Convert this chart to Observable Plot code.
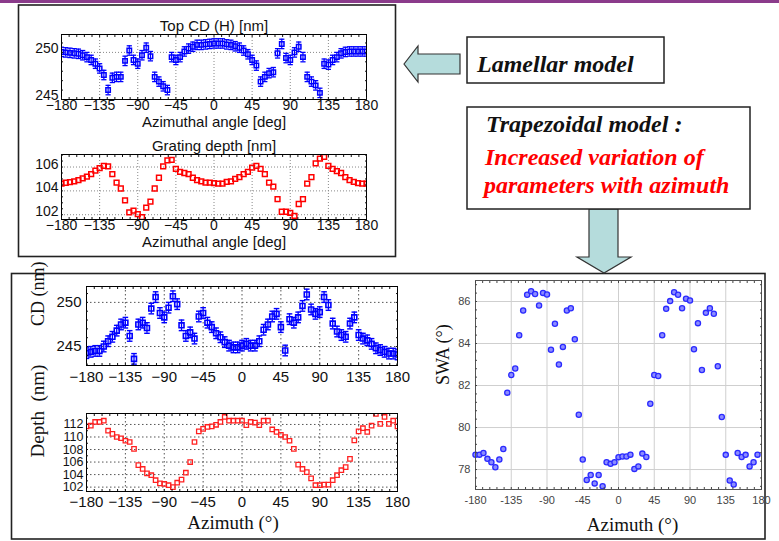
<!DOCTYPE html>
<html><head><meta charset="utf-8">
<script src="https://cdn.jsdelivr.net/npm/d3@7"></script>
<script src="https://cdn.jsdelivr.net/npm/@observablehq/plot@0.6"></script>
<style>
html,body{margin:0;padding:0;background:#fff;}
#root{position:relative;width:779px;height:541px;overflow:hidden;background:#fff;}
#root svg text{white-space:pre;}
</style></head><body><div id="root"></div>
<script>
// ---------- data ----------
const azimuth = d3.range(-180, 181, 5);          // 73 azimuths for the 4 left panels
const swaAzimuth = d3.range(-180, 176, 5);       // 72 azimuths for the SWA panel
const xTicks = [-180, -135, -90, -45, 0, 45, 90, 135, 180];
const minorX = d3.range(-180, 181, 9);

const lamellarCD = [250.05,250.0,249.95,249.9,249.85,249.7,249.5,249.2,248.8,248.3,
  247.6,246.0,247.3,247.4,247.4,249.1,250.2,249.2,248.8,249.7,
  250.5,249.6,247.4,246.9,246.4,246.0,249.5,249.2,249.5,250.1,
  250.4,250.6,250.8,250.8,250.85,250.9,250.95,250.95,250.95,250.85,
  250.8,250.65,250.5,250.2,249.8,249.2,248.6,246.9,247.4,247.8,
  247.9,249.9,250.9,249.4,249.2,250.0,250.6,249.5,247.4,246.9,
  246.5,245.7,248.8,248.7,249.2,249.5,249.9,250.05,250.1,250.1,
  250.1,250.1,250.1];
const lamellarCDErr = 0.5;
const lamellarCDTicks = [245, 250];

const lamellarDepth = [104.6,104.68,104.73,104.8,104.9,105.05,105.2,105.4,105.7,105.9,
  106.1,106.05,105.4,104.7,104.2,103.2,102.2,102.35,102.05,101.8,
  102.6,103.1,104.2,105.1,106.05,106.55,106.6,105.85,105.6,105.5,
  105.4,105.1,104.9,104.8,104.7,104.7,104.65,104.6,104.6,104.75,
  104.8,105.0,105.15,105.4,105.6,105.95,106.1,105.85,105.4,104.7,
  104.35,103.3,102.25,102.25,102.15,101.9,102.9,103.3,104.6,105.15,
  106.3,106.7,106.85,106.1,105.85,105.65,105.5,105.15,104.9,104.75,
  104.65,104.6,104.6];
const lamellarDepthTicks = [102, 104, 106];

const trapCD = [244.25,244.4,244.5,244.5,245.0,245.6,246.1,246.8,247.5,247.7,
  246.2,243.6,247.5,247.7,247.1,249.3,250.6,248.8,248.3,249.4,
  250.7,249.8,247.4,246.2,246.6,245.9,248.4,248.8,247.7,247.2,
  246.5,246.05,245.5,245.1,244.9,244.9,245.1,245.3,245.1,245.1,
  245.6,246.9,247.5,248.4,248.7,247.2,244.55,248.1,247.7,248.3,
  249.6,250.9,249.2,248.7,248.9,250.6,249.7,247.6,246.7,246.3,
  246.1,247.6,248.3,246.3,245.9,245.7,245.3,244.8,244.6,244.4,
  244.2,244.2,244.1];
const trapCDErr = 0.6;
const trapCDTicks = [245, 250];

const trapDepth = [111.7,111.8,112.4,112.4,112.6,111.0,110.5,110.0,109.8,109.4,
  109.2,108.1,105.5,104.9,104.2,103.9,103.1,102.6,102.5,102.3,
  102.0,102.7,103.2,104.3,106.0,109.2,110.9,111.3,111.6,111.7,
  111.95,112.4,113.2,112.6,112.6,112.6,112.6,111.9,112.4,112.3,
  111.9,112.6,112.6,111.2,110.8,110.35,110.0,109.4,108.1,105.6,
  104.9,104.4,103.4,102.3,102.3,102.4,102.4,103.1,103.9,104.7,
  105.2,106.5,109.45,110.9,111.4,110.8,111.8,113.7,112.1,113.2,
  112.1,112.6,111.7];
const trapDepthTicks = [102, 104, 106, 108, 110, 112];

const swa = [78.71,78.71,78.79,78.51,78.35,78.11,78.48,78.98,81.66,82.5,
  82.81,84.39,85.57,86.32,86.49,86.36,85.81,86.41,86.33,83.70,
  84.94,83.0,83.84,85.57,85.68,84.20,80.61,78.48,77.5,77.74,
  77.34,77.74,77.21,78.35,78.27,78.35,78.59,78.62,78.62,78.71,
  78.03,78.15,78.76,78.6,81.13,82.5,82.45,84.39,85.65,86.02,
  86.44,86.32,85.68,86.13,86.05,83.73,84.97,82.74,85.46,85.68,
  85.42,82.92,80.5,78.70,77.48,77.29,78.79,78.6,78.70,78.15,
  78.35,78.71];
const swaTicks = [78, 80, 82, 84, 86];

// ---------- helpers ----------
const sans = '"Liberation Sans", Arial, Helvetica, sans-serif';
const serif = '"Liberation Serif", "Times New Roman", serif';
const root = document.getElementById("root");
function place(el, left, top) {
  el.style.position = "absolute"; el.style.left = left + "px"; el.style.top = top + "px";
  el.style.overflow = "visible";
  root.appendChild(el); return el;
}
const hbar = {draw(ctx, size) { const r = Math.sqrt(size / Math.PI); ctx.moveTo(-r, 0); ctx.lineTo(r, 0); }};
const blank = () => "";
function innerTicks(xMinor, yMinor, size) {
  return [
    Plot.axisX(xMinor, {anchor: "bottom", tickSize: -size, tickFormat: blank}),
    Plot.axisX(xMinor, {anchor: "top", tickSize: -size, tickFormat: blank}),
    Plot.axisY(yMinor, {anchor: "left", tickSize: -size, tickFormat: blank}),
    Plot.axisY(yMinor, {anchor: "right", tickSize: -size, tickFormat: blank})
  ];
}

// ---------- decorations (boxes, arrows, captions) ----------
const deco = d3.create("svg").attr("width", 779).attr("height", 541)
  .style("position", "absolute").style("left", "0px").style("top", "0px");
deco.append("rect").attr("x", 0).attr("y", 0).attr("width", 779).attr("height", 3).attr("fill", "#8b3b8b");
deco.append("rect").attr("x", 18.5).attr("y", 5).attr("width", 377).attr("height", 251.5)
  .attr("fill", "none").attr("stroke", "#222").attr("stroke-width", 1.6);
deco.append("rect").attr("x", 11.5).attr("y", 273.5).attr("width", 753.5).attr("height", 265.5)
  .attr("fill", "none").attr("stroke", "#222").attr("stroke-width", 1.6);
deco.append("polygon").attr("points", "404,64 418,46 418,54 460,54 460,74 418,74 418,82")
  .attr("fill", "#b5dcdc").attr("stroke", "#333").attr("stroke-width", 1.2);
deco.append("rect").attr("x", 467).attr("y", 37).attr("width", 197).attr("height", 46)
  .attr("fill", "#fff").attr("stroke", "#222").attr("stroke-width", 1.5);
deco.append("polygon").attr("points", "589,209 618,209 618,257 631,257 604,273 577,257 589,257")
  .attr("fill", "#b5dcdc").attr("stroke", "#333").attr("stroke-width", 1.2);
deco.append("rect").attr("x", 467).attr("y", 107).attr("width", 283).attr("height", 102)
  .attr("fill", "#fff").attr("stroke", "#222").attr("stroke-width", 1.5);
const cap = (x, y, t, fill) => deco.append("text").attr("x", x).attr("y", y).text(t)
  .attr("font-family", serif).attr("font-weight", "bold").attr("font-style", "italic")
  .attr("font-size", 24).attr("fill", fill);
cap(477, 72, "Lamellar model", "#111");
cap(486, 132, "Trapezoidal model :", "#111");
cap(485, 165, "Increased variation of", "#ff0000");
cap(484, 193, "parameters with azimuth", "#ff0000");
root.appendChild(deco.node());

// ---------- panel 1: lamellar Top CD ----------
const d1 = azimuth.map((az, i) => ({az, v: lamellarCD[i]}));
const p1 = Plot.plot({
  width: 400, height: 135, marginLeft: 61, marginRight: 34, marginTop: 34, marginBottom: 36,
  style: {fontFamily: sans, fontSize: "14px", color: "#111", background: "none", overflow: "visible"},
  x: {domain: [-180, 180], label: null}, y: {domain: [245, 251.9], label: null},
  marks: [
    Plot.gridX(xTicks, {stroke: "#888", strokeOpacity: 1, strokeDasharray: "1,2"}),
    Plot.gridY([250], {stroke: "#888", strokeOpacity: 1, strokeDasharray: "1,2"}),
    Plot.ruleX(d1, {x: "az", y1: d => d.v - lamellarCDErr, y2: d => d.v + lamellarCDErr, stroke: "#0000ff", strokeWidth: 1.2, clip: true}),
    Plot.dot(d1, {x: "az", y: d => d.v + lamellarCDErr, symbol: hbar, r: 2.6, stroke: "#0000ff", strokeWidth: 1.3, clip: true}),
    Plot.dot(d1, {x: "az", y: d => d.v - lamellarCDErr, symbol: hbar, r: 2.6, stroke: "#0000ff", strokeWidth: 1.3, clip: true}),
    Plot.dot(d1, {x: "az", y: "v", symbol: "square", r: 2.5, stroke: "#0000ff", strokeWidth: 1.5, fill: "none", clip: true}),
    Plot.frame({stroke: "#000"}),
    ...innerTicks(minorX, d3.range(245, 252, 1), 2),
    Plot.axisX(xTicks, {anchor: "bottom", tickSize: 0, tickPadding: 1, fontSize: 14}),
    Plot.axisY(lamellarCDTicks, {anchor: "left", tickSize: 0, tickPadding: 3, fontSize: 14, dy: -4}),
    Plot.text(["Top CD (H) [nm]"], {text: d => d, frameAnchor: "top", dy: -14, fontSize: 15}),
    Plot.text(["Azimuthal angle [deg]"], {text: d => d, frameAnchor: "bottom", dy: 27, fontSize: 15})
  ]
});
place(p1, 0, 0);

// ---------- panel 2: lamellar grating depth ----------
const d2 = azimuth.map((az, i) => ({az, v: lamellarDepth[i]}));
const p2 = Plot.plot({
  width: 400, height: 130, marginLeft: 61, marginRight: 34, marginTop: 29, marginBottom: 36,
  style: {fontFamily: sans, fontSize: "14px", color: "#111", background: "none", overflow: "visible"},
  x: {domain: [-180, 180], label: null}, y: {domain: [101.6, 107.05], label: null},
  marks: [
    Plot.gridX(xTicks, {stroke: "#888", strokeOpacity: 1, strokeDasharray: "1,2"}),
    Plot.gridY(lamellarDepthTicks, {stroke: "#888", strokeOpacity: 1, strokeDasharray: "1,2"}),
    Plot.dot(d2, {x: "az", y: "v", symbol: "square", r: 2.7, stroke: "#ff0000", strokeWidth: 1.5, fill: "none", clip: true}),
    Plot.frame({stroke: "#000"}),
    ...innerTicks(minorX, d3.range(102, 107.1, 0.5), 2),
    Plot.axisX(xTicks, {anchor: "bottom", tickSize: 0, tickPadding: 1, fontSize: 14}),
    Plot.axisY(lamellarDepthTicks, {anchor: "left", tickSize: 0, tickPadding: 3, fontSize: 14, dy: -3}),
    Plot.text(["Grating depth [nm]"], {text: d => d, frameAnchor: "top", dy: -14, fontSize: 15}),
    Plot.text(["Azimuthal angle [deg]"], {text: d => d, frameAnchor: "bottom", dy: 27, fontSize: 15})
  ]
});
place(p2, 0, 125);

// ---------- panel 3: trapezoidal CD ----------
const d3d = azimuth.map((az, i) => ({az, v: trapCD[i]}));
const p3 = Plot.plot({
  width: 420, height: 130, marginLeft: 86, marginRight: 23, marginTop: 16, marginBottom: 35,
  style: {fontFamily: sans, fontSize: "15px", color: "#111", background: "none", overflow: "visible"},
  x: {domain: [-180, 180], label: null}, y: {domain: [242.85, 251.8], label: null},
  marks: [
    Plot.gridX(xTicks, {stroke: "#555", strokeOpacity: 1, strokeDasharray: "1.5,2.5"}),
    Plot.gridY(trapCDTicks, {stroke: "#555", strokeOpacity: 1, strokeDasharray: "1.5,2.5"}),
    Plot.ruleX(d3d, {x: "az", y1: d => d.v - trapCDErr, y2: d => d.v + trapCDErr, stroke: "#0000ff", strokeWidth: 1.3, clip: true}),
    Plot.dot(d3d, {x: "az", y: d => d.v + trapCDErr, symbol: hbar, r: 2.8, stroke: "#0000ff", strokeWidth: 1.4, clip: true}),
    Plot.dot(d3d, {x: "az", y: d => d.v - trapCDErr, symbol: hbar, r: 2.8, stroke: "#0000ff", strokeWidth: 1.4, clip: true}),
    Plot.dot(d3d, {x: "az", y: "v", symbol: "square", r: 2.8, stroke: "#0000ff", strokeWidth: 1.6, fill: "none", clip: true}),
    Plot.frame({stroke: "#000"}),
    ...innerTicks(minorX, d3.range(243, 252, 1), 2),
    Plot.axisX(xTicks, {anchor: "bottom", tickSize: 0, tickPadding: 6, fontSize: 15}),
    Plot.axisY(trapCDTicks, {anchor: "left", tickSize: 0, tickPadding: 5}),
    Plot.text(["CD (nm)"], {text: d => d, frameAnchor: "left", dx: -48, rotate: -90, fontFamily: serif, fontSize: 18})
  ]
});
place(p3, 0, 270);

// ---------- panel 4: trapezoidal depth ----------
const d4 = azimuth.map((az, i) => ({az, v: trapDepth[i]}));
const p4 = Plot.plot({
  width: 420, height: 141, marginLeft: 86, marginRight: 23, marginTop: 13, marginBottom: 50,
  style: {fontFamily: sans, fontSize: "15px", color: "#111", background: "none", overflow: "visible"},
  x: {domain: [-180, 180], label: null}, y: {domain: [101.3, 113.75], label: null},
  marks: [
    Plot.gridX(xTicks, {stroke: "#555", strokeOpacity: 1, strokeDasharray: "1.5,2.5"}),
    Plot.gridY(trapDepthTicks, {stroke: "#555", strokeOpacity: 1, strokeDasharray: "1.5,2.5"}),
    Plot.dot(d4, {x: "az", y: "v", symbol: "square", r: 2.5, stroke: "#ff2020", strokeWidth: 1.3, fill: "none", clip: true}),
    Plot.frame({stroke: "#000"}),
    ...innerTicks(minorX, d3.range(102, 114, 1), 2),
    Plot.axisX(xTicks, {anchor: "bottom", tickSize: 0, tickPadding: 5, fontSize: 15}),
    Plot.axisY(trapDepthTicks, {anchor: "left", tickSize: 0, tickPadding: 3, fontSize: 12.5}),
    Plot.text(["Depth  (nm)"], {text: d => d, frameAnchor: "left", dx: -49, dy: 5, rotate: -90, fontFamily: serif, fontSize: 19}),
    Plot.text(["Azimuth (°)"], {text: d => d, frameAnchor: "bottom", dx: -9, dy: 37, fontFamily: serif, fontSize: 19})
  ]
});
place(p4, 0, 400);

// ---------- panel 5: SWA scatter ----------
const d5 = swaAzimuth.map((az, i) => ({az, v: swa[i]}));
const p5 = Plot.plot({
  width: 359, height: 271, marginLeft: 55, marginRight: 18, marginTop: 10, marginBottom: 52,
  style: {fontFamily: sans, fontSize: "11px", color: "#444", background: "none", overflow: "visible"},
  x: {domain: [-180, 180], label: null}, y: {domain: [77.05, 87], label: null},
  marks: [
    Plot.gridX(xTicks, {stroke: "#cfcfcf", strokeOpacity: 1}),
    Plot.gridY(swaTicks, {stroke: "#cfcfcf", strokeOpacity: 1}),
    Plot.dot(d5, {x: "az", y: "v", r: 2.6, stroke: "#2a2aff", fill: "#8c8cff", strokeWidth: 1.3}),
    Plot.frame({stroke: "#555"}),
    ...innerTicks(minorX, d3.range(77.2, 87, 0.4), 2),
    Plot.axisX(xTicks, {anchor: "bottom", tickSize: 0, tickPadding: 7, tickFormat: d => String(d)}),
    Plot.axisY(swaTicks, {anchor: "left", tickSize: 0, tickPadding: 5}),
    Plot.text(["Azimuth (°)"], {text: d => d, frameAnchor: "bottom", dx: 14, dy: 41, fontFamily: serif, fontSize: 19, fill: "#111"}),
    Plot.text(["SWA (°)"], {text: d => d, frameAnchor: "left", dx: -32, rotate: -90, fontFamily: serif, fontSize: 18, fill: "#111"})
  ]
});
place(p5, 420, 270);
</script></body></html>
